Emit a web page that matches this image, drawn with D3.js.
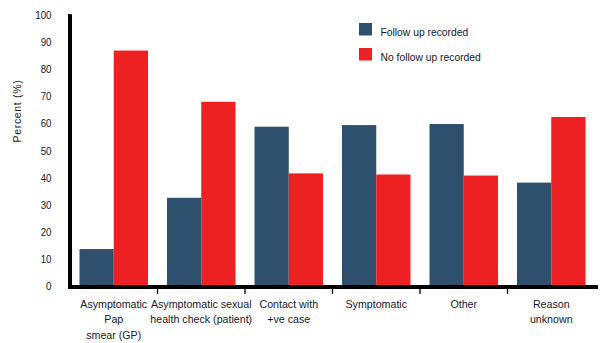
<!DOCTYPE html>
<html>
<head>
<meta charset="utf-8">
<script src="https://cdn.jsdelivr.net/npm/d3@7"></script>
<style>
  html, body { margin: 0; padding: 0; background: #fff; }
  svg { display: block; }
  text { font-family: "Liberation Sans", Arial, sans-serif; fill: #17172e; }
</style>
</head>
<body>
<svg id="chart" width="607" height="343"></svg>
<script>
// Reasons for testing, with the share of cases that had / lacked a recorded follow-up
const categories = [
  ["Asymptomatic", "Pap", "smear (GP)"],
  ["Asymptomatic sexual", "health check (patient)"],
  ["Contact with", "+ve case"],
  ["Symptomatic"],
  ["Other"],
  ["Reason", "unknown"]
];
const seriesNames = ["Follow up recorded", "No follow up recorded"];
const followUp = [13.4, 32.3, 58.5, 59.1, 59.5, 37.9];
const noFollowUp = [86.6, 67.7, 41.3, 40.9, 40.5, 62.1];
const yTicks = [0, 10, 20, 30, 40, 50, 60, 70, 80, 90, 100];
const colors = ["#2e506c", "#ed2124"];

const svg = d3.select("#chart");
const plotLeft = 70, plotRight = 595, plotTop = 14.2, plotBottom = 285.4;
const fontSize = 11.6;
const narrow = 0.9; // horizontal squeeze to give a condensed face

const x = d3.scaleBand().domain(d3.range(categories.length)).range([plotLeft, plotRight]).paddingInner(0).paddingOuter(0);
const inner = d3.scaleBand().domain([0, 1]).range([9.5, x.bandwidth() - 9.5]).padding(0);
const y = d3.scaleLinear().domain([0, 100]).range([plotBottom, plotTop]);

// Bars
const rows = categories.map((c, i) => ({ i, vals: [followUp[i], noFollowUp[i]] }));
const groups = svg.append("g").selectAll("g").data(rows).join("g")
  .attr("transform", d => `translate(${x(d.i)},0)`);
groups.selectAll("rect").data(d => d.vals.map((v, s) => ({ v, s }))).join("rect")
  .attr("x", d => inner(d.s))
  .attr("width", inner.bandwidth())
  .attr("y", d => y(d.v))
  .attr("height", d => y(0) - y(d.v))
  .attr("fill", d => colors[d.s]);

// Y axis
const yAxis = svg.append("g").attr("transform", `translate(${plotLeft},0)`)
  .call(d3.axisLeft(y).tickValues(yTicks).tickSize(10).tickPadding(0).tickFormat(d3.format("d")));
yAxis.attr("font-family", null).attr("font-size", null);
yAxis.select(".domain").remove();
yAxis.selectAll(".tick line").attr("stroke", "#000").attr("stroke-width", 1.3).attr("x2", -2);
yAxis.selectAll(".tick text")
  .attr("fill", null)
  .attr("x", null).attr("dy", null)
  .attr("font-size", fontSize)
  .attr("transform", `translate(-18.5,4.2) scale(0.84,1)`);
svg.append("line").attr("x1", plotLeft).attr("x2", plotLeft).attr("y1", plotTop).attr("y2", plotBottom + 3)
  .attr("stroke", "#000").attr("stroke-width", 4);

// X axis
const xAxis = svg.append("g").attr("transform", `translate(0,${plotBottom + 1.5})`);
xAxis.append("line").attr("x1", plotLeft - 2).attr("x2", plotRight + 3).attr("stroke", "#000").attr("stroke-width", 4);
xAxis.selectAll("line.tick").data(d3.range(1, categories.length)).join("line")
  .attr("class", "tick")
  .attr("x1", d => x(d)).attr("x2", d => x(d))
  .attr("y1", 0).attr("y2", 7)
  .attr("stroke", "#000").attr("stroke-width", 1.3);
xAxis.selectAll("text").data(categories).join("text")
  .attr("text-anchor", "middle")
  .attr("font-size", fontSize)
  .attr("transform", (d, i) => `translate(${x(i) + x.bandwidth() / 2},0) scale(${narrow + 0.02},1)`)
  .each(function (d) {
    d3.select(this).selectAll("tspan").data(d).join("tspan")
      .attr("x", 0).attr("y", (t, k) => 21 + k * 15.5).text(t => t);
  });

// Y axis title
svg.append("text")
  .attr("transform", `translate(21,111) rotate(-90) scale(${narrow},1)`)
  .attr("text-anchor", "middle")
  .attr("font-size", fontSize)
  .attr("letter-spacing", 0.8)
  .text("Percent (%)");

// Legend
const legend = svg.append("g").selectAll("g").data(seriesNames).join("g")
  .attr("transform", (d, i) => `translate(359,${23 + i * 25})`);
legend.append("rect").attr("width", 13).attr("height", 12.5).attr("fill", (d, i) => colors[i]);
legend.append("text")
  .attr("transform", `translate(21.5,12.5) scale(${narrow - 0.01},1)`)
  .attr("font-size", fontSize).text(d => d);
</script>
</body>
</html>
